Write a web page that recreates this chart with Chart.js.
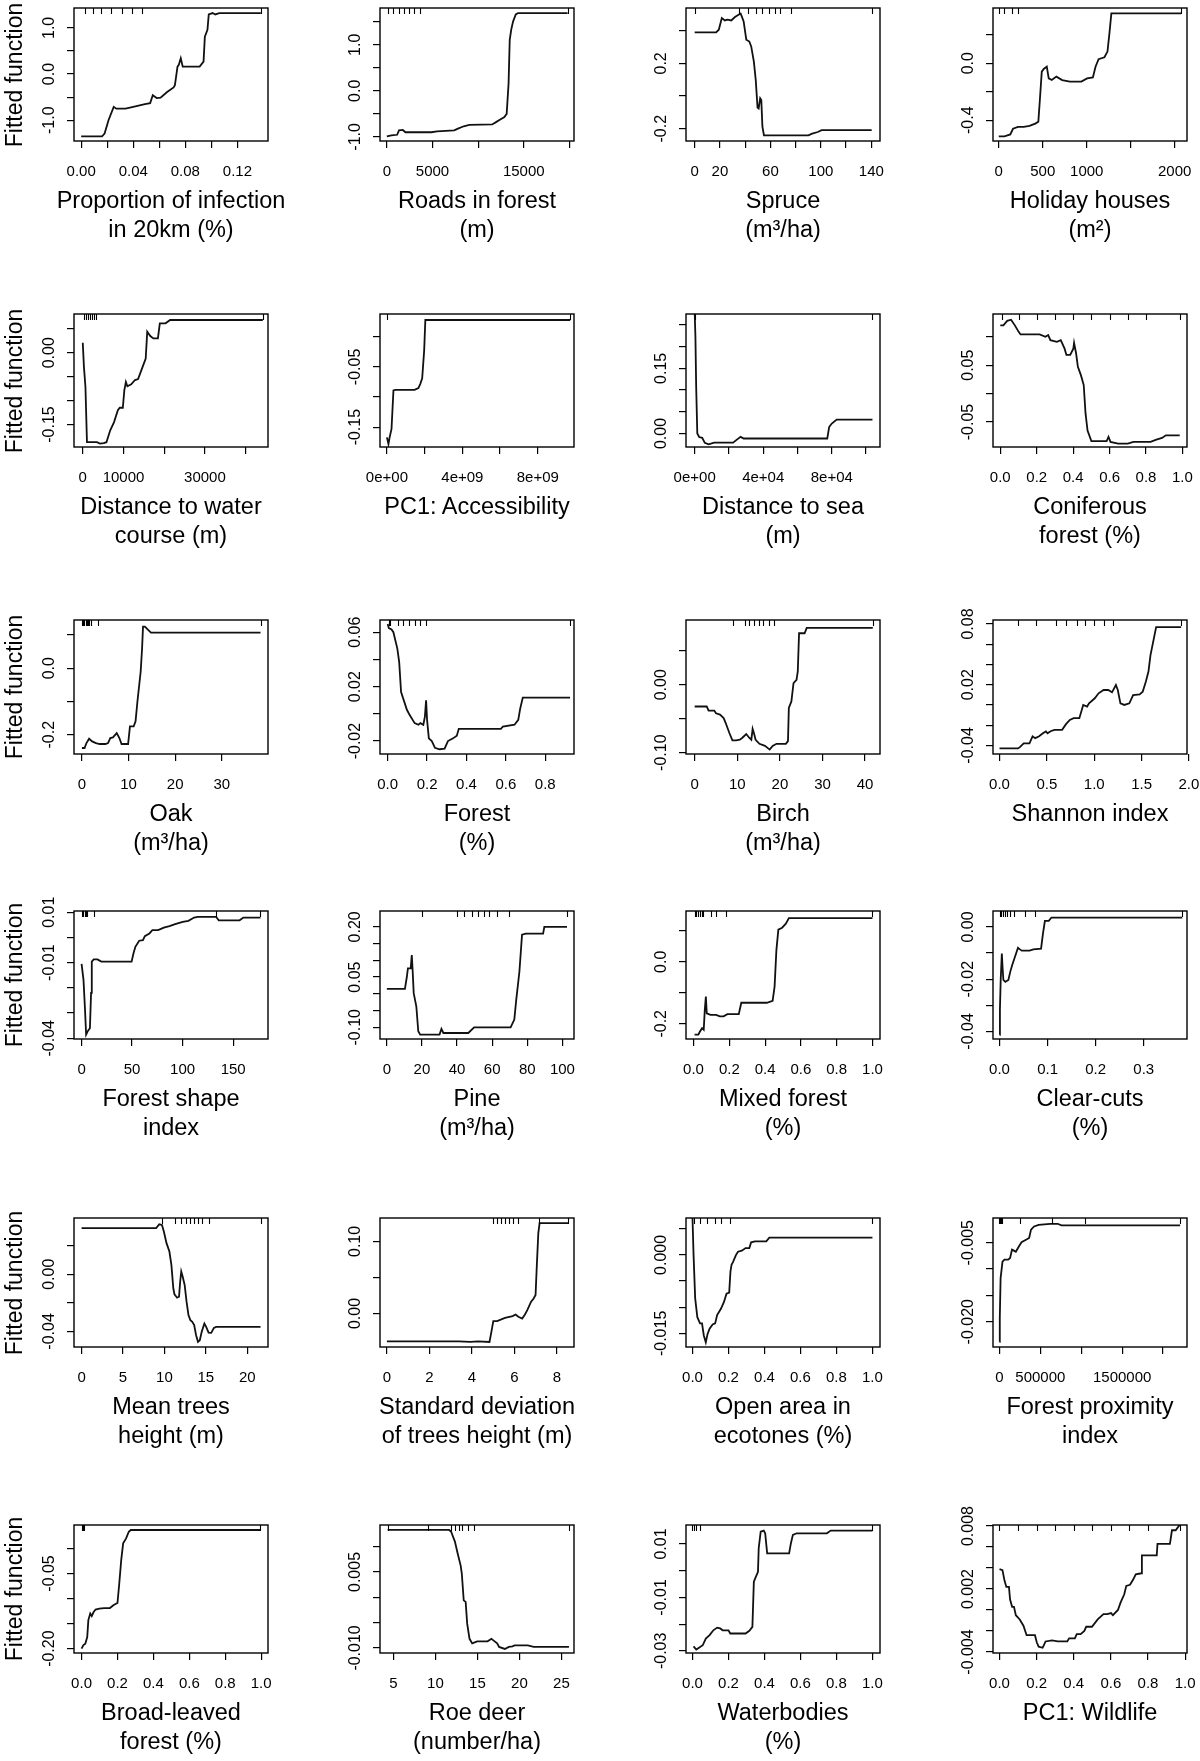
<!DOCTYPE html>
<html>
<head>
<meta charset="utf-8">
<script src="https://cdn.jsdelivr.net/npm/chart.js@4.4.1/dist/chart.umd.min.js"></script>
<style>
  html, body { margin: 0; padding: 0; background: #fff; }
  #page { position: relative; width: 1200px; height: 1761px; overflow: hidden; font-family: "Liberation Sans", Arial, sans-serif; color: #000; }
  #page canvas { position: absolute; }
  .xt { position: absolute; width: 300px; text-align: center; font-size: 23.5px; line-height: 29px; white-space: nowrap; }
  .yt { position: absolute; font-size: 23px; white-space: nowrap; transform: translate(-50%, -50%) rotate(-90deg); }
</style>
</head>
<body>
<div id="page"></div>
<script>
// shared 0..1 axis
const unitTicks = [0, 0.2, 0.4, 0.6, 0.8, 1.0];
const unitLabels = ['0.0', '0.2', '0.4', '0.6', '0.8', '1.0'];

// Proportion of infection in 20km
const infectionX = [0, 0.016, 0.018, 0.021, 0.025, 0.027, 0.034, 0.040, 0.049, 0.053, 0.055, 0.058, 0.061, 0.066, 0.071, 0.072, 0.074, 0.075, 0.0765, 0.078, 0.091, 0.094, 0.095, 0.097, 0.098, 0.101, 0.103, 0.106, 0.138];
const infectionY = [-1.35, -1.35, -1.29, -1.0, -0.71, -0.75, -0.75, -0.71, -0.65, -0.63, -0.46, -0.52, -0.51, -0.39, -0.29, -0.24, 0.16, 0.2, 0.34, 0.16, 0.16, 0.27, 0.81, 0.96, 1.29, 1.32, 1.29, 1.32, 1.32];
const infectionXTicks = [0, 0.02, 0.04, 0.06, 0.08, 0.10, 0.12];
const infectionXLabels = ['0.00', '', '0.04', '', '0.08', '', '0.12'];
const infectionYTicks = [-1, -0.5, 0, 0.5, 1];
const infectionYLabels = ['-1.0', '', '0.0', '', '1.0'];
const infectionRug = [0.003, 0.009, 0.015, 0.023, 0.031, 0.039, 0.047, 0.138];

// Roads in forest
const roadsX = [0, 500, 1125, 1333, 1750, 2040, 4875, 5500, 7375, 7790, 8420, 9040, 11540, 11960, 12375, 12875, 13125, 13333, 13460, 13625, 13830, 14125, 14375, 19800];
const roadsY = [-0.99, -0.97, -0.955, -0.86, -0.85, -0.9, -0.9, -0.88, -0.86, -0.82, -0.77, -0.74, -0.73, -0.68, -0.63, -0.57, -0.5, 0.16, 1.11, 1.33, 1.51, 1.66, 1.69, 1.69];
const roadsXTicks = [0, 5000, 10000, 15000, 20000];
const roadsXLabels = ['0', '5000', '', '15000', ''];
const roadsYTicks = [-1, -0.5, 0, 0.5, 1, 1.5];
const roadsYLabels = ['-1.0', '', '0.0', '', '1.0', ''];
const roadsRug = [80, 700, 1330, 1875, 2460, 3000, 3625, 19800];

// Spruce
const spruceX = [0, 17, 19.1, 21.5, 23.9, 26, 29, 31.9, 36.4, 37.3, 38.8, 40.9, 43.3, 44.8, 46.9, 48.4, 49.8, 50.7, 51.9, 52.8, 53.7, 54.9, 90.1, 93.1, 97.6, 100.6, 140.3];
const spruceY = [0.39, 0.39, 0.406, 0.478, 0.463, 0.468, 0.463, 0.484, 0.505, 0.488, 0.457, 0.345, 0.334, 0.304, 0.211, 0.098, -0.07, -0.076, -0.014, -0.025, -0.189, -0.24, -0.24, -0.23, -0.22, -0.209, -0.209];
const spruceXTicks = [0, 20, 40, 60, 80, 100, 120, 140];
const spruceXLabels = ['0', '20', '', '60', '', '100', '', '140'];
const spruceYTicks = [-0.2, 0, 0.2, 0.4];
const spruceYLabels = ['-0.2', '', '0.2', ''];
const spruceRug = [0, 35, 42.4, 48.4, 53.7, 58.8, 63.3, 67.8, 76.7, 140.3];

// Holiday houses
const holidayX = [0, 65, 131, 162, 218, 284, 349, 415, 450, 467, 489, 511, 546, 568, 603, 655, 721, 808, 939, 1004, 1070, 1100, 1135, 1201, 1236, 1258, 1280, 2074];
const holidayY = [-0.513, -0.513, -0.5, -0.46, -0.447, -0.447, -0.44, -0.424, -0.41, -0.26, -0.059, -0.04, -0.024, -0.106, -0.118, -0.094, -0.118, -0.129, -0.129, -0.106, -0.1, -0.024, 0.028, 0.042, 0.082, 0.21, 0.35, 0.35];
const holidayXTicks = [0, 500, 1000, 1500, 2000];
const holidayXLabels = ['0', '500', '1000', '', '2000'];
const holidayYTicks = [-0.4, -0.2, 0, 0.2];
const holidayYLabels = ['-0.4', '', '0.0', ''];
const holidayRug = [0, 65, 153, 218, 2074];

// Distance to water course
const waterX = [0, 281, 656, 1031, 3467, 4217, 5155, 5810, 6746, 7683, 8620, 9089, 9838, 10213, 10588, 10963, 11900, 12837, 13587, 14242, 15460, 15835, 16585, 17335, 18459, 18927, 20333, 21457, 44226];
const waterY = [0.021, -0.029, -0.071, -0.187, -0.187, -0.19, -0.189, -0.187, -0.162, -0.145, -0.12, -0.115, -0.115, -0.078, -0.061, -0.07, -0.066, -0.057, -0.055, -0.04, -0.012, 0.044, 0.035, 0.03, 0.03, 0.0615, 0.0615, 0.0685, 0.0685];
const waterXTicks = [0, 10000, 20000, 30000, 40000];
const waterXLabels = ['0', '10000', '', '30000', ''];
const waterYTicks = [-0.15, -0.10, -0.05, 0, 0.05];
const waterYLabels = ['-0.15', '', '', '0.00', ''];
const waterRug = [188, 843, 1405, 1780, 2250, 2717, 3186, 44226];

// PC1: Accessibility
const accessX = [0, 8.1e7, 1.43e8, 2.44e8, 3.46e8, 4.48e8, 1.467e9, 1.67e9, 1.77e9, 1.87e9, 1.976e9, 2.037e9, 9.72e9];
const accessY = [-0.167, -0.178, -0.167, -0.153, -0.089, -0.088, -0.088, -0.085, -0.078, -0.069, -0.022, 0.028, 0.028];
const accessXTicks = [0, 2e9, 4e9, 6e9, 8e9];
const accessXLabels = ['0e+00', '', '4e+09', '', '8e+09'];
const accessYTicks = [-0.15, -0.10, -0.05, 0];
const accessYLabels = ['-0.15', '', '-0.05', ''];
const accessRug = [0, 9.72e9];

// Distance to sea
const seaX = [0, 440, 879, 1539, 2638, 4396, 5935, 8133, 11430, 22420, 24618, 26816, 28574, 77370, 78469, 80007, 82865, 103746];
const seaY = [0.28, 0.223, 0.108, 0.0, -0.008, -0.01, -0.0215, -0.025, -0.021, -0.021, -0.014, -0.0077, -0.0115, -0.0115, 0.015, 0.023, 0.032, 0.032];
const seaXTicks = [0, 2e4, 4e4, 6e4, 8e4, 1e5];
const seaXLabels = ['0e+00', '', '4e+04', '', '8e+04', ''];
const seaYTicks = [0, 0.05, 0.10, 0.15, 0.20, 0.25];
const seaYLabels = ['0.00', '', '', '0.15', '', ''];
const seaRug = [0, 103746];

// Coniferous forest
const coniferX = [0, 0.017, 0.038, 0.059, 0.08, 0.1, 0.111, 0.216, 0.248, 0.263, 0.275, 0.311, 0.332, 0.353, 0.363, 0.384, 0.401, 0.405, 0.416, 0.426, 0.443, 0.458, 0.468, 0.479, 0.5, 0.584, 0.594, 0.605, 0.647, 0.7, 0.731, 0.825, 0.857, 0.888, 0.909, 0.985];
const coniferY = [0.12, 0.12, 0.128, 0.13, 0.12, 0.109, 0.104, 0.104, 0.1, 0.103, 0.094, 0.091, 0.094, 0.079, 0.068, 0.068, 0.079, 0.089, 0.071, 0.047, 0.032, 0.015, -0.035, -0.065, -0.0835, -0.0835, -0.076, -0.085, -0.088, -0.088, -0.085, -0.085, -0.081, -0.078, -0.0735, -0.0735];
const coniferYTicks = [-0.05, 0, 0.05, 0.10];
const coniferYLabels = ['-0.05', '', '0.05', ''];
const coniferRug = [0.01, 0.1, 0.2, 0.3, 0.4, 0.5, 0.6, 0.7, 0.8, 0.985];

// Oak
const oakX = [0, 0.57, 0.97, 1.54, 2.19, 3.0, 3.81, 5.03, 5.6, 6.08, 6.65, 7.46, 8.03, 8.5, 9.9, 10.3, 11.1, 11.5, 11.9, 12.6, 12.9, 13.1, 13.5, 14.2, 14.8, 38.3];
const oakY = [-0.24, -0.24, -0.225, -0.212, -0.22, -0.225, -0.228, -0.228, -0.225, -0.21, -0.208, -0.195, -0.21, -0.228, -0.228, -0.175, -0.175, -0.16, -0.1, -0.01, 0.06, 0.125, 0.125, 0.115, 0.107, 0.107];
const oakXTicks = [0, 10, 20, 30];
const oakXLabels = ['0', '10', '20', '30'];
const oakYTicks = [-0.2, -0.1, 0, 0.1];
const oakYLabels = ['-0.2', '', '0.0', ''];
const oakRug = [0.1, 0.3, 0.5, 0.8, 1.0, 1.2, 1.5, 2.0, 3.5, 38.3];

// Forest
const forestX = [0, 0.006, 0.0195, 0.029, 0.049, 0.0585, 0.068, 0.084, 0.0975, 0.111, 0.137, 0.156, 0.166, 0.181, 0.189, 0.195, 0.2, 0.209, 0.224, 0.24, 0.263, 0.289, 0.306, 0.332, 0.351, 0.361, 0.575, 0.585, 0.644, 0.663, 0.673, 0.686, 0.926];
const forestY = [0.066, 0.063, 0.062, 0.06, 0.048, 0.038, 0.016, 0.009, 0.003, -0.0007, -0.0068, -0.008, -0.0068, -0.008, -0.002, 0.01, -0.0044, -0.018, -0.02, -0.025, -0.026, -0.0256, -0.02, -0.018, -0.016, -0.011, -0.011, -0.0093, -0.008, -0.0044, 0.004, 0.012, 0.012];
const forestXTicks = [0, 0.2, 0.4, 0.6, 0.8];
const forestXLabels = ['0.0', '0.2', '0.4', '0.6', '0.8'];
const forestYTicks = [-0.02, 0, 0.02, 0.04, 0.06];
const forestYLabels = ['-0.02', '', '0.02', '', '0.06'];
const forestRug = [0.005, 0.01, 0.05, 0.08, 0.11, 0.14, 0.166, 0.195, 0.926];

// Birch
const birchX = [0, 2.83, 3.27, 4.6, 5.0, 5.93, 6.8, 7.26, 8.14, 8.85, 9.73, 10.6, 11.2, 12.1, 12.8, 13.3, 13.6, 13.9, 14.3, 15.2, 16.5, 17.6, 18.3, 19.2, 21.4, 21.9, 22.1, 22.7, 23.2, 23.9, 24.2, 24.5, 25.8, 26.3, 41.8];
const birchY = [-0.032, -0.032, -0.038, -0.038, -0.042, -0.044, -0.049, -0.056, -0.071, -0.082, -0.082, -0.081, -0.078, -0.0725, -0.078, -0.081, -0.065, -0.071, -0.081, -0.087, -0.09, -0.0955, -0.09, -0.087, -0.087, -0.083, -0.034, -0.0245, 0.0025, 0.0074, 0.0196, 0.076, 0.076, 0.084, 0.084];
const birchXTicks = [0, 10, 20, 30, 40];
const birchXLabels = ['0', '10', '20', '30', '40'];
const birchYTicks = [-0.10, -0.05, 0, 0.05];
const birchYLabels = ['-0.10', '', '0.00', ''];
const birchRug = [9.0, 11.7, 12.8, 13.9, 15.0, 16.1, 17.4, 18.6, 41.8];

// Shannon index
const shannonX = [0, 0.195, 0.215, 0.255, 0.316, 0.349, 0.377, 0.418, 0.458, 0.49, 0.507, 0.539, 0.58, 0.661, 0.702, 0.742, 0.783, 0.843, 0.884, 0.925, 0.945, 1.006, 1.046, 1.099, 1.148, 1.188, 1.229, 1.249, 1.277, 1.318, 1.371, 1.411, 1.48, 1.512, 1.545, 1.573, 1.594, 1.654, 1.918];
const shannonY = [-0.043, -0.043, -0.0417, -0.038, -0.038, -0.031, -0.0328, -0.031, -0.028, -0.0262, -0.028, -0.026, -0.0246, -0.0246, -0.019, -0.0148, -0.0131, -0.0131, 0.0, -0.0016, 0.0016, 0.0066, 0.0115, 0.0148, 0.0148, 0.0125, 0.0197, 0.0148, 0.0016, 0.0, 0.0016, 0.0098, 0.0105, 0.013, 0.023, 0.033, 0.049, 0.077, 0.077];
const shannonXTicks = [0, 0.5, 1.0, 1.5, 2.0];
const shannonXLabels = ['0.0', '0.5', '1.0', '1.5', '2.0'];
const shannonYTicks = [-0.04, -0.02, 0, 0.02, 0.04, 0.06, 0.08];
const shannonYLabels = ['-0.04', '', '', '0.02', '', '', '0.08'];
const shannonRug = [0.2, 0.38, 0.6, 0.7, 0.82, 0.9, 1.0, 1.1, 1.2, 1.918];

// Forest shape index
const shapeX = [0, 1.9, 3.4, 4.5, 6.4, 8.25, 9.4, 10.1, 12, 15.75, 19.5, 49.5, 51.4, 53.25, 57, 60.75, 62.6, 67.1, 70.1, 75.75, 81.4, 87, 92.6, 100.1, 105.75, 111.4, 115.1, 133.1, 135.75, 156.4, 160.1, 177];
const shapeY = [-0.0105, -0.0168, -0.0287, -0.0386, -0.037, -0.036, -0.022, -0.0096, -0.0087, -0.0087, -0.0096, -0.0096, -0.0063, -0.0037, -0.0013, -0.0011, 0.0005, 0.0016, 0.0029, 0.0029, 0.0039, 0.0045, 0.0053, 0.0062, 0.0066, 0.0079, 0.0082, 0.0082, 0.0068, 0.0068, 0.0079, 0.0079];
const shapeXTicks = [0, 50, 100, 150];
const shapeXLabels = ['0', '50', '100', '150'];
const shapeYTicks = [-0.04, -0.03, -0.02, -0.01, 0, 0.01];
const shapeYLabels = ['-0.04', '', '', '-0.01', '', '0.01'];
const shapeRug = [0.75, 1.9, 3.4, 4.5, 5.6, 12, 133.1, 177];

// Pine
const pineX = [0, 10.3, 11.4, 12, 13.6, 14.2, 14.7, 15.3, 16.8, 17.9, 19, 22.3, 30, 31.1, 32.2, 46.4, 49.7, 70.5, 72.6, 73.7, 75.5, 77, 79.2, 89, 89.7, 102.6];
const pineY = [0.015, 0.015, 0.051, 0.076, 0.076, 0.116, 0.069, 0.002, -0.038, -0.112, -0.122, -0.122, -0.122, -0.105, -0.117, -0.117, -0.1, -0.1, -0.077, -0.018, 0.066, 0.177, 0.18, 0.18, 0.2, 0.2];
const pineXTicks = [0, 20, 40, 60, 80, 100];
const pineXLabels = ['0', '20', '40', '60', '80', '100'];
const pineYTicks = [-0.10, -0.05, 0, 0.05, 0.10, 0.15, 0.20];
const pineYLabels = ['-0.10', '', '', '0.05', '', '', '0.20'];
const pineRug = [20, 39.8, 44.2, 48.6, 51.9, 55.1, 58.4, 62.8, 69.4, 102.6];

// Mixed forest
const mixedX = [0.006, 0.027, 0.036, 0.048, 0.057, 0.063, 0.069, 0.074, 0.095, 0.126, 0.147, 0.168, 0.189, 0.253, 0.267, 0.41, 0.442, 0.453, 0.463, 0.474, 0.495, 0.516, 0.533, 1.0];
const mixedY = [-0.235, -0.235, -0.225, -0.214, -0.219, -0.155, -0.112, -0.166, -0.171, -0.171, -0.176, -0.176, -0.169, -0.169, -0.132, -0.132, -0.126, -0.08, 0.037, 0.104, 0.11, 0.123, 0.141, 0.141];
const mixedYTicks = [-0.2, -0.1, 0, 0.1];
const mixedYLabels = ['-0.2', '', '0.0', ''];
const mixedRug = [0.006, 0.015, 0.025, 0.035, 0.045, 0.055, 0.095, 0.126, 0.18, 1.0];

// Clear-cuts
const clearcutX = [0, 0.0008, 0.0024, 0.0048, 0.0064, 0.008, 0.012, 0.0184, 0.0224, 0.0264, 0.0344, 0.0384, 0.0424, 0.0464, 0.0624, 0.0704, 0.0864, 0.0904, 0.0944, 0.1024, 0.108, 0.38];
const clearcutY = [-0.0413, -0.0318, -0.0203, -0.0102, -0.0159, -0.0203, -0.021, -0.0203, -0.0171, -0.0146, -0.0102, -0.008, -0.0086, -0.0091, -0.0091, -0.0086, -0.0083, -0.0025, 0.0023, 0.0023, 0.0036, 0.0036];
const clearcutXTicks = [0, 0.1, 0.2, 0.3];
const clearcutXLabels = ['0.0', '0.1', '0.2', '0.3'];
const clearcutYTicks = [-0.04, -0.03, -0.02, -0.01, 0];
const clearcutYLabels = ['-0.04', '', '-0.02', '', '0.00'];
const clearcutRug = [0, 0.004, 0.008, 0.012, 0.016, 0.022, 0.03, 0.054, 0.074, 0.38];

// Mean trees height
const heightX = [0, 9.0, 9.38, 9.7, 9.93, 10.25, 10.6, 10.84, 11.07, 11.21, 11.53, 11.76, 11.9, 12.03, 12.2, 12.44, 12.67, 12.9, 13.13, 13.36, 13.59, 13.82, 14.05, 14.27, 14.5, 14.82, 15.05, 15.33, 15.65, 15.97, 16.24, 21.6];
const heightY = [0.0323, 0.0323, 0.035, 0.0345, 0.03, 0.0218, 0.0159, 0.0066, -0.0098, -0.014, -0.0164, -0.0157, -0.0052, 0.0019, -0.0016, -0.0075, -0.0192, -0.0286, -0.0321, -0.0333, -0.0356, -0.0427, -0.0473, -0.0462, -0.0403, -0.0345, -0.037, -0.0408, -0.041, -0.0375, -0.0368, -0.0368];
const heightXTicks = [0, 5, 10, 15, 20];
const heightXLabels = ['0', '5', '10', '15', '20'];
const heightYTicks = [-0.04, -0.02, 0, 0.02];
const heightYLabels = ['-0.04', '', '0.00', ''];
const heightRug = [9.7, 11.3, 12.0, 12.6, 13.1, 13.6, 14.05, 14.5, 15.4, 21.6];

// Standard deviation of trees height
const heightSdX = [0, 3.38, 3.93, 4.29, 4.83, 4.92, 5.01, 5.19, 5.56, 5.92, 6.06, 6.19, 6.37, 6.5, 6.61, 6.79, 6.91, 7.0, 7.06, 7.13, 7.19, 8.54];
const heightSdY = [-0.0386, -0.0386, -0.0395, -0.0386, -0.0395, -0.0256, -0.0107, -0.0107, -0.006, -0.0037, -0.0014, -0.0046, -0.007, -0.0014, 0.0046, 0.0163, 0.0209, 0.0256, 0.0674, 0.1116, 0.1255, 0.1255];
const heightSdXTicks = [0, 2, 4, 6, 8];
const heightSdXLabels = ['0', '2', '4', '6', '8'];
const heightSdYTicks = [0, 0.05, 0.10];
const heightSdYLabels = ['0.00', '', '0.10'];
const heightSdRug = [5.01, 5.19, 5.38, 5.56, 5.74, 5.92, 6.19, 7.15, 8.54];

// Open area in ecotones
const ecotoneX = [0, 0.006, 0.015, 0.027, 0.042, 0.053, 0.063, 0.074, 0.084, 0.095, 0.112, 0.126, 0.137, 0.158, 0.175, 0.189, 0.204, 0.211, 0.217, 0.225, 0.242, 0.253, 0.274, 0.295, 0.316, 0.326, 0.347, 0.41, 0.427, 1.0];
const ecotoneY = [0.0072, 0.0, -0.0083, -0.0119, -0.0131, -0.0131, -0.0154, -0.0167, -0.0151, -0.0141, -0.0133, -0.0131, -0.0115, -0.0103, -0.009, -0.0074, -0.0072, -0.0032, -0.0019, -0.0014, 0.0, 0.0006, 0.0008, 0.0013, 0.0013, 0.0024, 0.0026, 0.0026, 0.0033, 0.0033];
const ecotoneYTicks = [-0.015, -0.010, -0.005, 0, 0.005];
const ecotoneYLabels = ['-0.015', '', '', '0.000', ''];
const ecotoneRug = [0.006, 0.042, 0.078, 0.126, 0.158, 0.211, 1.0];

// Forest proximity index
const proximityX = [0, 4000, 14000, 37200, 60500, 107000, 130000, 153500, 176700, 200000, 237200, 269800, 330200, 362800, 386000, 423200, 479000, 618600, 711600, 758100, 781400, 2209000];
const proximityY = [-0.0238, -0.0194, -0.0117, -0.0086, -0.0082, -0.0082, -0.0079, -0.0063, -0.0065, -0.0067, -0.0057, -0.0049, -0.0044, -0.0041, -0.0025, -0.0019, -0.0016, -0.0014, -0.0014, -0.0017, -0.0017, -0.0017];
const proximityXTicks = [0, 500000, 1000000, 1500000, 2000000];
const proximityXLabels = ['0', '500000', '', '1500000', ''];
const proximityYTicks = [-0.020, -0.015, -0.010, -0.005];
const proximityYLabels = ['-0.020', '', '', '-0.005'];
const proximityRug = [0, 3000, 8000, 15000, 30000, 250000, 640000, 1040000, 2209000];

// Broad-leaved forest
const broadleafX = [0, 0.0105, 0.021, 0.0316, 0.0379, 0.0484, 0.0568, 0.0674, 0.0779, 0.099, 0.126, 0.158, 0.179, 0.2, 0.21, 0.221, 0.2316, 0.248, 0.263, 0.274, 0.996];
const broadleafY = [-0.2, -0.193, -0.19, -0.177, -0.143, -0.13, -0.135, -0.127, -0.122, -0.12, -0.119, -0.119, -0.113, -0.109, -0.07, -0.023, 0.01, 0.02, 0.0333, 0.0367, 0.0367];
const broadleafYTicks = [-0.20, -0.15, -0.10, -0.05, 0];
const broadleafYLabels = ['-0.20', '', '', '-0.05', ''];
const broadleafRug = [0, 0.006, 0.015, 0.996];

// Roe deer
const roeDeerX = [4.31, 11.63, 11.86, 12.32, 12.64, 13.0, 13.14, 13.37, 13.6, 13.78, 14.06, 14.38, 14.97, 16.21, 16.67, 16.9, 17.35, 17.58, 18.27, 18.73, 19.18, 19.41, 21.0, 21.7, 25.9];
const roeDeerY = [0.0133, 0.0133, 0.013, 0.011, 0.0087, 0.0063, 0.0047, -0.0006, -0.0009, -0.0052, -0.0082, -0.0091, -0.0087, -0.0087, -0.0082, -0.0085, -0.0091, -0.0098, -0.0102, -0.0098, -0.0097, -0.0095, -0.0095, -0.0098, -0.0098];
const roeDeerXTicks = [5, 10, 15, 20, 25];
const roeDeerXLabels = ['5', '10', '15', '20', '25'];
const roeDeerYTicks = [-0.010, -0.005, 0, 0.005, 0.010];
const roeDeerYLabels = ['-0.010', '', '', '0.005', ''];
const roeDeerRug = [4.31, 9.1, 11.8, 12.3, 12.8, 13.2, 13.9, 14.6, 25.9];

// Waterbodies
const waterbodyX = [0.006, 0.021, 0.036, 0.057, 0.074, 0.095, 0.116, 0.137, 0.154, 0.168, 0.2, 0.21, 0.295, 0.316, 0.333, 0.341, 0.352, 0.364, 0.368, 0.379, 0.396, 0.404, 0.415, 0.537, 0.547, 0.558, 0.579, 0.747, 0.768, 1.0];
const waterbodyY = [-0.0283, -0.0295, -0.0288, -0.0279, -0.0254, -0.0241, -0.0223, -0.0213, -0.0216, -0.0223, -0.0223, -0.0235, -0.0235, -0.0225, -0.021, -0.0041, -0.0023, -0.0004, 0.0084, 0.0146, 0.015, 0.014, 0.0065, 0.0065, 0.0103, 0.0134, 0.014, 0.014, 0.015, 0.015];
const waterbodyYTicks = [-0.03, -0.02, -0.01, 0, 0.01];
const waterbodyYLabels = ['-0.03', '', '-0.01', '', '0.01'];
const waterbodyRug = [0, 0.01, 0.02, 0.04, 1.0];

// PC1: Wildlife
const wildlifeX = [0, 0.016, 0.027, 0.037, 0.051, 0.057, 0.068, 0.078, 0.088, 0.109, 0.129, 0.146, 0.191, 0.201, 0.211, 0.232, 0.238, 0.248, 0.283, 0.314, 0.365, 0.375, 0.406, 0.416, 0.437, 0.457, 0.467, 0.498, 0.529, 0.56, 0.58, 0.601, 0.611, 0.638, 0.652, 0.672, 0.683, 0.703, 0.72, 0.734, 0.765, 0.767, 0.847, 0.851, 0.918, 0.929, 0.949, 0.97];
const wildlifeY = [0.0039, 0.0038, 0.0028, 0.0022, 0.0022, 0.001, 0.0003, 0.0003, -0.0005, -0.0009, -0.0015, -0.0024, -0.0024, -0.0031, -0.0035, -0.0036, -0.0034, -0.003, -0.0029, -0.003, -0.003, -0.0027, -0.0027, -0.0023, -0.0023, -0.002, -0.0016, -0.0016, -0.0009, -0.0004, -0.0004, -0.0003, -0.0005, 0.0, 0.0007, 0.0015, 0.0023, 0.0024, 0.0029, 0.0034, 0.0035, 0.0052, 0.0052, 0.0063, 0.0063, 0.0076, 0.0076, 0.0081];
const wildlifeYTicks = [-0.004, -0.002, 0, 0.002, 0.004, 0.006, 0.008];
const wildlifeYLabels = ['-0.004', '', '', '0.002', '', '', '0.008'];
const wildlifeRug = [0, 0.1, 0.2, 0.3, 0.4, 0.5, 0.6, 0.7, 0.8, 0.97];

const panels = [
  { title: ['Proportion of infection', 'in 20km (%)'], x: infectionX, y: infectionY, xr: [-0.0055, 0.1435], yr: [-1.45, 1.43], xt: infectionXTicks, xl: infectionXLabels, yt: infectionYTicks, yl: infectionYLabels, rug: infectionRug },
  { title: ['Roads in forest', '(m)'], x: roadsX, y: roadsY, xr: [-750, 20500], yr: [-1.09, 1.80], xt: roadsXTicks, xl: roadsXLabels, yt: roadsYTicks, yl: roadsYLabels, rug: roadsRug },
  { title: ['Spruce', '(m³/ha)'], x: spruceX, y: spruceY, xr: [-6.9, 146.9], yr: [-0.275, 0.539], xt: spruceXTicks, xl: spruceXLabels, yt: spruceYTicks, yl: spruceYLabels, rug: spruceRug },
  { title: ['Holiday houses', '(m²)'], x: holidayX, y: holidayY, xr: [-65.5, 2140], yr: [-0.546, 0.388], xt: holidayXTicks, xl: holidayXLabels, yt: holidayYTicks, yl: holidayYLabels, rug: holidayRug },

  { title: ['Distance to water', 'course (m)'], x: waterX, y: waterY, xr: [-2155, 45500], yr: [-0.197, 0.081], xt: waterXTicks, xl: waterXLabels, yt: waterYTicks, yl: waterYLabels, rug: waterRug },
  { title: ['PC1: Accessibility'], x: accessX, y: accessY, xr: [-3.67e8, 9.92e9], yr: [-0.183, 0.038], xt: accessXTicks, xl: accessXLabels, yt: accessYTicks, yl: accessYLabels, rug: accessRug },
  { title: ['Distance to sea', '(m)'], x: seaX, y: seaY, xr: [-5055, 108140], yr: [-0.031, 0.275], xt: seaXTicks, xl: seaXLabels, yt: seaYTicks, yl: seaYLabels, rug: seaRug },
  { title: ['Coniferous', 'forest (%)'], x: coniferX, y: coniferY, xr: [-0.04, 1.025], yr: [-0.094, 0.14], xt: unitTicks, xl: unitLabels, yt: coniferYTicks, yl: coniferYLabels, rug: coniferRug },

  { title: ['Oak', '(m³/ha)'], x: oakX, y: oakY, xr: [-1.7, 39.9], yr: [-0.258, 0.145], xt: oakXTicks, xl: oakXLabels, yt: oakYTicks, yl: oakYLabels, rug: oakRug },
  { title: ['Forest', '(%)'], x: forestX, y: forestY, xr: [-0.039, 0.946], yr: [-0.0295, 0.069], xt: forestXTicks, xl: forestXLabels, yt: forestYTicks, yl: forestYLabels, rug: forestRug },
  { title: ['Birch', '(m³/ha)'], x: birchX, y: birchY, xr: [-2.04, 43.5], yr: [-0.102, 0.0955], xt: birchXTicks, xl: birchXLabels, yt: birchYTicks, yl: birchYLabels, rug: birchRug },
  { title: ['Shannon index'], x: shannonX, y: shannonY, xr: [-0.069, 1.98], yr: [-0.0485, 0.084], xt: shannonXTicks, xl: shannonXLabels, yt: shannonYTicks, yl: shannonYLabels, rug: shannonRug },

  { title: ['Forest shape', 'index'], x: shapeX, y: shapeY, xr: [-7.5, 184.5], yr: [-0.0403, 0.0105], xt: shapeXTicks, xl: shapeXLabels, yt: shapeYTicks, yl: shapeYLabels, rug: shapeRug },
  { title: ['Pine', '(m³/ha)'], x: pineX, y: pineY, xr: [-3.9, 106.6], yr: [-0.135, 0.2475], xt: pineXTicks, xl: pineXLabels, yt: pineYTicks, yl: pineYLabels, rug: pineRug },
  { title: ['Mixed forest', '(%)'], x: mixedX, y: mixedY, xr: [-0.042, 1.042], yr: [-0.249, 0.164], xt: unitTicks, xl: unitLabels, yt: mixedYTicks, yl: mixedYLabels, rug: mixedRug },
  { title: ['Clear-cuts', '(%)'], x: clearcutX, y: clearcutY, xr: [-0.0136, 0.39], yr: [-0.0429, 0.0061], xt: clearcutXTicks, xl: clearcutXLabels, yt: clearcutYTicks, yl: clearcutYLabels, rug: clearcutRug },

  { title: ['Mean trees', 'height (m)'], x: heightX, y: heightY, xr: [-0.915, 22.5], yr: [-0.0509, 0.0394], xt: heightXTicks, xl: heightXLabels, yt: heightYTicks, yl: heightYLabels, rug: heightRug },
  { title: ['Standard deviation', 'of trees height (m)'], x: heightSdX, y: heightSdY, xr: [-0.326, 8.81], yr: [-0.0465, 0.1325], xt: heightSdXTicks, xl: heightSdXLabels, yt: heightSdYTicks, yl: heightSdYLabels, rug: heightSdRug },
  { title: ['Open area in', 'ecotones (%)'], x: ecotoneX, y: ecotoneY, xr: [-0.036, 1.042], yr: [-0.0176, 0.00705], xt: unitTicks, xl: unitLabels, yt: ecotoneYTicks, yl: ecotoneYLabels, rug: ecotoneRug },
  { title: ['Forest proximity', 'index'], x: proximityX, y: proximityY, xr: [-79000, 2293000], yr: [-0.0248, -0.0003], xt: proximityXTicks, xl: proximityXLabels, yt: proximityYTicks, yl: proximityYLabels, rug: proximityRug },

  { title: ['Broad-leaved', 'forest (%)'], x: broadleafX, y: broadleafY, xr: [-0.042, 1.038], yr: [-0.2087, 0.0467], xt: unitTicks, xl: unitLabels, yt: broadleafYTicks, yl: broadleafYLabels, rug: broadleafRug },
  { title: ['Roe deer', '(number/ha)'], x: roeDeerX, y: roeDeerY, xr: [3.4, 26.5], yr: [-0.011, 0.01428], xt: roeDeerXTicks, xl: roeDeerXLabels, yt: roeDeerYTicks, yl: roeDeerYLabels, rug: roeDeerRug },
  { title: ['Waterbodies', '(%)'], x: waterbodyX, y: waterbodyY, xr: [-0.036, 1.042], yr: [-0.0308, 0.0171], xt: unitTicks, xl: unitLabels, yt: waterbodyYTicks, yl: waterbodyYLabels, rug: waterbodyRug },
  { title: ['PC1: Wildlife'], x: wildlifeX, y: wildlifeY, xr: [-0.035, 1.01], yr: [-0.0041, 0.0081], xt: unitTicks, xl: unitLabels, yt: wildlifeYTicks, yl: wildlifeYLabels, rug: wildlifeRug }
];

// panel grid (plot box edges in page pixels)
const colLeft = [74, 380, 686, 993];
const boxW = 194;
const rowTop = [8, 314, 620, 911, 1218, 1525];
const rowBottom = [141, 447, 754, 1039, 1347, 1653];
const PAD_L = 50, PAD_T = 25, PAD_R = 48, PAD_B = 50;

const FONT = '"Liberation Sans", Arial, sans-serif';
Chart.defaults.font.family = FONT;
Chart.defaults.color = '#000';

// box, rug and rotated y labels, R style
function framePlugin(p) {
    return {
        id: 'rframe',
        afterDraw(chart) {
            const { ctx, chartArea: a, scales: { x, y } } = chart;
            ctx.save();
            ctx.strokeStyle = '#000';
            ctx.lineWidth = 1.4;
            ctx.strokeRect(a.left, a.top, a.width, a.height);

            ctx.lineWidth = 1.1;
            p.rug.forEach(v => {
                const px = Math.round(x.getPixelForValue(v)) + 0.5;
                ctx.beginPath();
                ctx.moveTo(px, a.top);
                ctx.lineTo(px, a.top + 6);
                ctx.stroke();
            });

            ctx.fillStyle = '#000';
            ctx.font = '16px ' + FONT;
            ctx.textAlign = 'center';
            ctx.textBaseline = 'middle';
            p.yt.forEach((v, i) => {
                if (!p.yl[i]) return;
                const py = y.getPixelForValue(v);
                ctx.save();
                ctx.translate(a.left - 24, py);
                ctx.rotate(-Math.PI / 2);
                ctx.fillText(p.yl[i], 0, 0);
                ctx.restore();
            });
            ctx.restore();
        }
    };
}

const page = document.getElementById('page');

panels.forEach((p, idx) => {
    const col = idx % 4, row = Math.floor(idx / 4);
    const bx = colLeft[col], by = rowTop[row];
    const bh = rowBottom[row] - rowTop[row];

    const canvas = document.createElement('canvas');
    canvas.width = PAD_L + boxW + PAD_R;
    canvas.height = PAD_T + bh + PAD_B;
    canvas.style.left = (bx - PAD_L) + 'px';
    canvas.style.top = (by - PAD_T) + 'px';
    page.appendChild(canvas);

    const tickGrid = { display: true, drawOnChartArea: false, drawTicks: true, tickLength: 7, color: '#000', lineWidth: 1.2 };

    new Chart(canvas, {
        type: 'scatter',
        data: {
            datasets: [{
                data: p.x.map((v, i) => ({ x: v, y: p.y[i] })),
                showLine: true,
                borderColor: '#111',
                borderWidth: 1.8,
                pointRadius: 0,
                tension: 0
            }]
        },
        options: {
            responsive: false,
            animation: false,
            events: [],
            layout: { padding: { left: 0, top: PAD_T, right: PAD_R, bottom: 0 } },
            plugins: { legend: { display: false }, tooltip: { enabled: false } },
            scales: {
                x: {
                    type: 'linear', min: p.xr[0], max: p.xr[1],
                    afterBuildTicks: s => { s.ticks = p.xt.map(v => ({ value: v })); },
                    afterFit: s => { s.height = PAD_B; },
                    ticks: { autoSkip: false, maxRotation: 0, minRotation: 0, padding: 15, font: { size: 15 }, color: '#000', callback: (v, i) => p.xl[i] },
                    grid: tickGrid,
                    border: { display: false }
                },
                y: {
                    type: 'linear', min: p.yr[0], max: p.yr[1],
                    afterBuildTicks: s => { s.ticks = p.yt.map(v => ({ value: v })); },
                    afterFit: s => { s.width = PAD_L; },
                    ticks: { display: false },
                    grid: tickGrid,
                    border: { display: false }
                }
            }
        },
        plugins: [framePlugin(p)]
    });

    const t = document.createElement('div');
    t.className = 'xt';
    t.style.left = (bx + boxW / 2 - 150) + 'px';
    t.style.top = (rowBottom[row] + 45) + 'px';
    t.innerHTML = p.title.join('<br>');
    page.appendChild(t);
});

rowTop.forEach((top, r) => {
    const d = document.createElement('div');
    d.className = 'yt';
    d.textContent = 'Fitted function';
    d.style.left = '14px';
    d.style.top = ((top + rowBottom[r]) / 2) + 'px';
    page.appendChild(d);
});
</script>
</body>
</html>
